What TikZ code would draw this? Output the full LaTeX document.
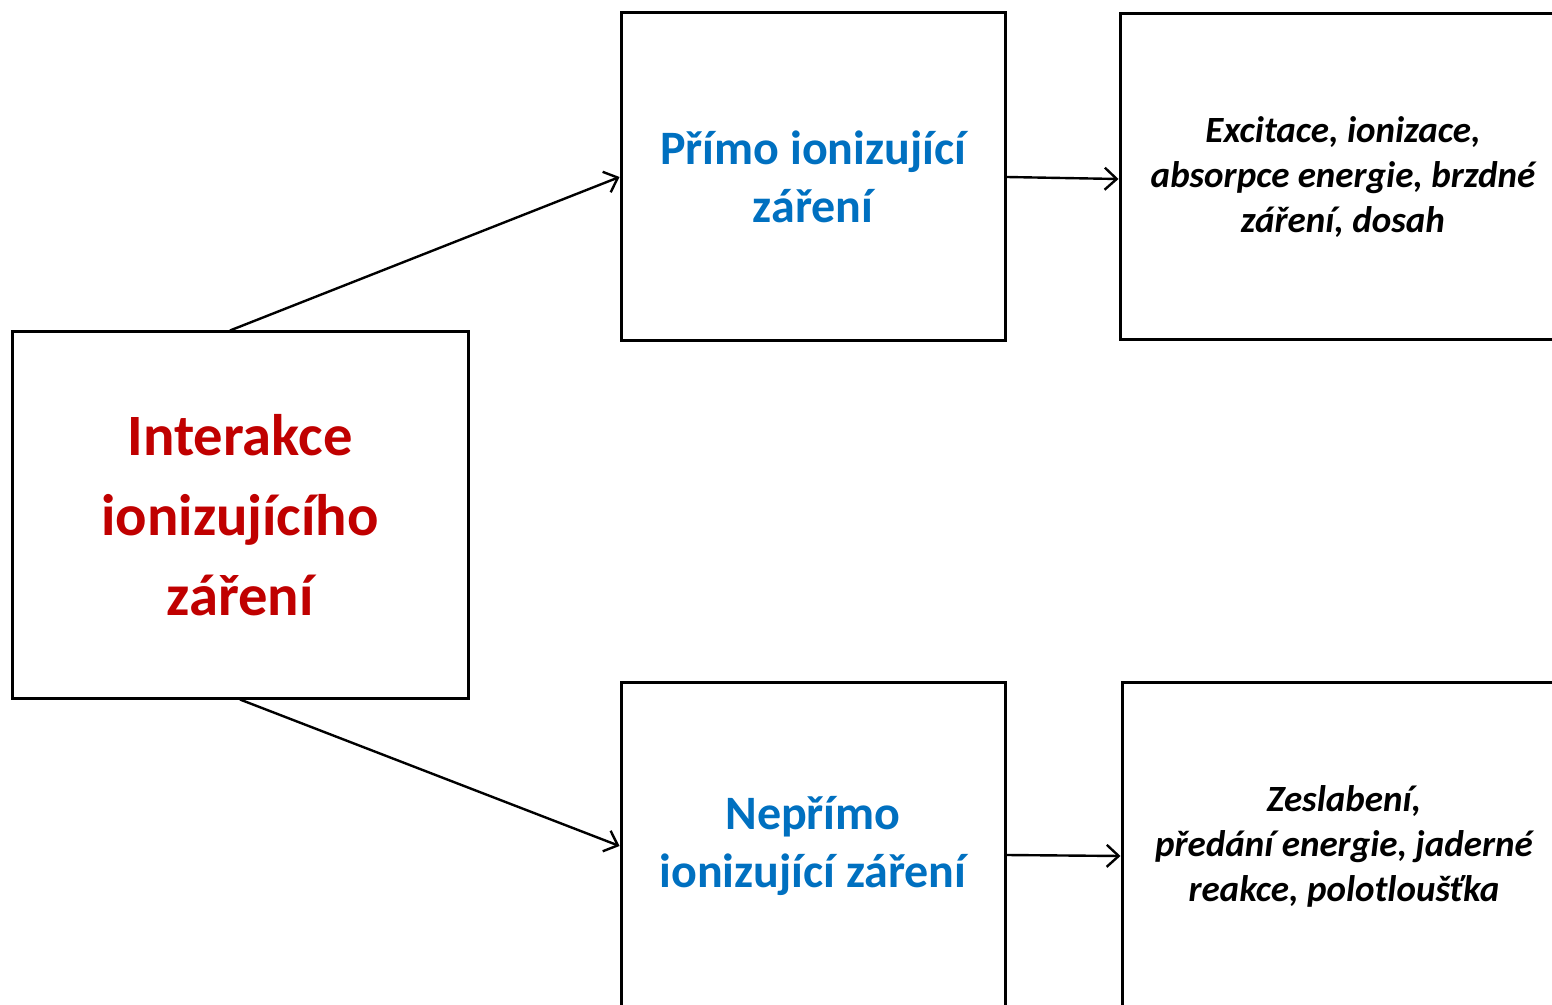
\documentclass[tikz,border=0pt]{standalone}
\usepackage{fontspec}
\setmainfont{Carlito}
\usetikzlibrary{arrows.meta}
\definecolor{darkred}{HTML}{C00000}
\definecolor{midblue}{HTML}{0070C0}
\begin{document}
\begin{tikzpicture}[x=0.5pt,y=-0.5pt,
  box/.style={draw=black,line width=1.5pt,rectangle,inner sep=0pt,align=center},
  headbox/.style={box,font=\bfseries\fontsize{29.3pt}{40pt}\selectfont,text=darkred},
  kindbox/.style={box,font=\bfseries\fontsize{24pt}{29pt}\selectfont,text=midblue},
  notebox/.style={box,font=\bfseries\itshape\fontsize{18.5pt}{22.5pt}\selectfont,text=black},
  arr/.style={draw=black,line width=1.2pt,-{Straight Barb[length=6pt,width=11pt,line width=1.2pt]}}]
\useasboundingbox (0,0) rectangle (1552,1005);
\clip (0,0) rectangle (1552,1005);
\fill[white] (0,0) rectangle (1552,1005);

% main box on the left
\node[headbox,minimum width=228pt,minimum height=183pt] (main) at (240,515)
  {Interakce\\ionizujícího\\záření};

% the two kinds of radiation
\node[kindbox,minimum width=192pt,minimum height=164pt] (prim) at (813,177)
  {Přímo ionizující\\záření};
\node[kindbox,minimum width=192pt,minimum height=164pt] (neprim) at (813,846)
  {Nepřímo\\ionizující záření};

% what each kind involves
\node[notebox,minimum width=223pt,minimum height=163pt] (primnote) at (1343,177)
  {Excitace, ionizace,\\absorpce energie, brzdné\\záření, dosah};
\node[notebox,minimum width=222pt,minimum height=164pt] (neprimnote) at (1344,846)
  {Zeslabení,\\předání energie, jaderné\\reakce, polotloušťka};

% connectors
\draw[arr] ([xshift=-5pt]main.north) -- (prim.west);
\draw[arr] (main.south) -- (neprim.west);
\draw[arr] (prim.east) -- ([yshift=-1pt]primnote.west);
\draw[arr] ([yshift=-4.5pt]neprim.east) -- ([yshift=-5pt]neprimnote.west);
\end{tikzpicture}
\end{document}
